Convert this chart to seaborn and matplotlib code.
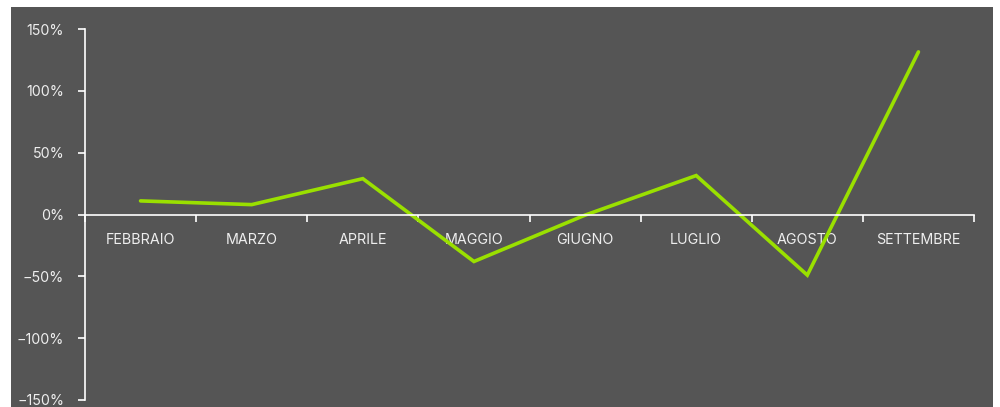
import matplotlib
matplotlib.use("Agg")
import matplotlib.pyplot as plt
from matplotlib.patches import Rectangle
from matplotlib.ticker import FixedLocator, FuncFormatter
import seaborn as sns
import pandas as pd

months = ["FEBBRAIO", "MARZO", "APRILE", "MAGGIO", "GIUGNO", "LUGLIO", "AGOSTO", "SETTEMBRE"]
growth_pct = [11, 8, 29, -38, -0.5, 31.5, -49, 131.5]
y_ticks = [-150, -100, -50, 0, 50, 100, 150]

sns.set_theme(style="white")
plt.rcParams["font.family"] = ["Inter", "DejaVu Sans"]

panel_color = "#555555"
text_color = "#eeeeee"
line_color = "#9ae000"

fig = plt.figure(figsize=(10, 4.07), dpi=100, facecolor="white")
fig.patches.append(Rectangle((0.011, 0.0), 0.982, 0.983, transform=fig.transFigure,
                             facecolor=panel_color, edgecolor="none", zorder=-10))

ax = fig.add_axes([0.085, 0.0172, 0.889, 0.9115])
ax.set_facecolor("none")
ax.set_zorder(1)

df = pd.DataFrame({"mese": months, "crescita": growth_pct})
sns.lineplot(data=df, x="mese", y="crescita", ax=ax, color=line_color,
             linewidth=2.6, solid_capstyle="round", solid_joinstyle="miter", sort=False)

ax.set_xlim(-0.5, len(months) - 0.5)
ax.set_ylim(-150, 150)

for side in ("top", "right"):
    ax.spines[side].set_visible(False)
ax.spines["bottom"].set_position(("data", 0))
for side in ("left", "bottom"):
    ax.spines[side].set_color("white")
    ax.spines[side].set_linewidth(1.2)

ax.set_yticks(y_ticks)
ax.yaxis.set_major_formatter(FuncFormatter(lambda v, _: f"{int(v)}%".replace("-", "\u2212")))
ax.tick_params(axis="y", direction="out", length=5, width=1.2, color="white",
               labelcolor=text_color, labelsize=10.3, pad=10, left=True)

ax.set_xticks(range(len(months)))
ax.set_xticklabels(months)
ax.xaxis.set_minor_locator(FixedLocator([i - 0.5 for i in range(len(months) + 1)]))
ax.tick_params(axis="x", which="major", length=0, labelcolor=text_color, labelsize=10.3, pad=13)
ax.tick_params(axis="x", which="minor", direction="out", length=5, width=1.2,
               color="white", bottom=True)

ax.set_xlabel("")
ax.set_ylabel("")
ax.grid(False)

fig.savefig("out.png", dpi=100, facecolor="white")
